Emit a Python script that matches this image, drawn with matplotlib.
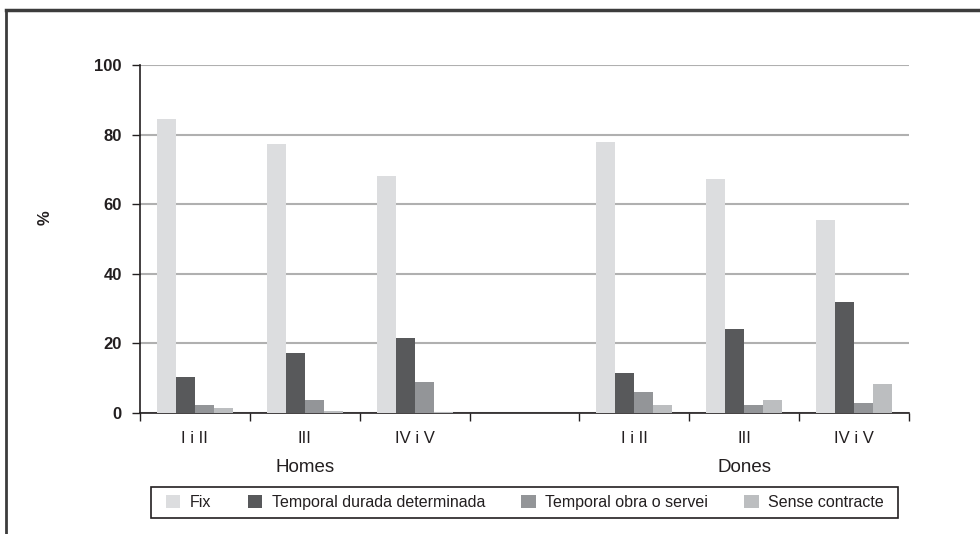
import matplotlib
matplotlib.use("Agg")
import matplotlib.pyplot as plt
from matplotlib.lines import Line2D
from matplotlib.patches import Patch, Rectangle
import matplotlib.transforms as mtransforms
import numpy as np

categories = ["I i II", "III", "IV i V", "", "I i II", "III", "IV i V"]
groups = ["Homes", "Dones"]
series_names = ["Fix", "Temporal durada determinada", "Temporal obra o servei", "Sense contracte"]
fix = [84.5, 77.3, 68.1, np.nan, 77.9, 67.2, 55.5]
durada = [10.3, 17.2, 21.6, np.nan, 11.5, 24.1, 31.9]
obra = [2.3, 3.7, 8.9, np.nan, 6.0, 2.3, 2.9]
sense = [1.4, 0.6, 0.3, np.nan, 2.3, 3.7, 8.3]
yticks = [0, 20, 40, 60, 80, 100]
colors = ["#dcdddf", "#58595b", "#939598", "#bcbec0"]

narrow = ["Liberation Sans", "DejaVu Sans"]
plt.rcParams["font.family"] = ["Liberation Sans", "DejaVu Sans"]
ink = "#231f20"

fig = plt.figure(figsize=(9.8, 5.34), dpi=100)
ax = fig.add_axes([140/980, 1 - 413/534, (909-140)/980, (413-65)/534])

x = np.arange(len(categories))
w = 0.173
for i, (vals, c) in enumerate(zip([fix, durada, obra, sense], colors)):
    ax.bar(x + (i - 1.5) * w, vals, width=w, color=c, edgecolor="none", zorder=3)

ax.set_xlim(-0.5, len(categories) - 0.5)
ax.set_ylim(0, 100)
ax.set_yticks(yticks)
ax.set_yticklabels([str(v) for v in yticks], fontsize=12, fontweight="bold", color=ink)
ax.yaxis.grid(True, color="#b0b0b0", linewidth=1.5, zorder=0)
ax.set_axisbelow(True)

ax.set_xticks(np.arange(-0.5, len(categories), 1.0))
ax.set_xticklabels([])
ax.set_xticks(x, minor=True)
ax.set_xticklabels(categories, minor=True, fontsize=12, family=narrow, color=ink)
ax.tick_params(axis="x", which="minor", length=0, pad=13)
ax.tick_params(axis="x", which="major", length=6, width=1, direction="out", color=ink)
ax.tick_params(axis="y", length=6, width=1, pad=7, color=ink)

for s in ["top", "right"]:
    ax.spines[s].set_visible(False)
for s in ["left", "bottom"]:
    ax.spines[s].set_color(ink)
    ax.spines[s].set_linewidth(1.2)

fig.text(45/980, 1 - 218/534, "%", fontsize=12, fontweight="bold", rotation=90,
         ha="center", va="center", color=ink)

trans = mtransforms.blended_transform_factory(ax.transData, ax.transAxes)
ax.text(1, -0.158, groups[0], transform=trans, ha="center", va="center", fontsize=13.5, family=narrow, color=ink)
ax.text(5, -0.158, groups[1], transform=trans, ha="center", va="center", fontsize=13.5, family=narrow, color=ink)

handles = [Patch(facecolor=c, edgecolor="none") for c in colors]
leg = fig.legend(handles, series_names, loc="center", ncol=4, mode="expand",
                 bbox_to_anchor=(166/980, 16/534, (884-166)/980, 31/534),
                 prop={"family": narrow, "size": 11.5}, frameon=False,
                 handlelength=0.9, handleheight=0.9, handletextpad=0.6,
                 borderaxespad=0, borderpad=0.0)
for t in leg.get_texts():
    t.set_color(ink)
fig.add_artist(Rectangle((151/980, 16/534), (898-151)/980, 31/534, transform=fig.transFigure,
                         facecolor="none", edgecolor=ink, linewidth=1.2))

fig.add_artist(Line2D([6/980, 1.0], [1 - 9.5/534, 1 - 9.5/534], transform=fig.transFigure, color="#3c3c3c", linewidth=2.5))
fig.add_artist(Line2D([6/980, 6/980], [0, 1 - 9.5/534], transform=fig.transFigure, color="#3c3c3c", linewidth=2.0))

fig.savefig("out.png", dpi=100)
